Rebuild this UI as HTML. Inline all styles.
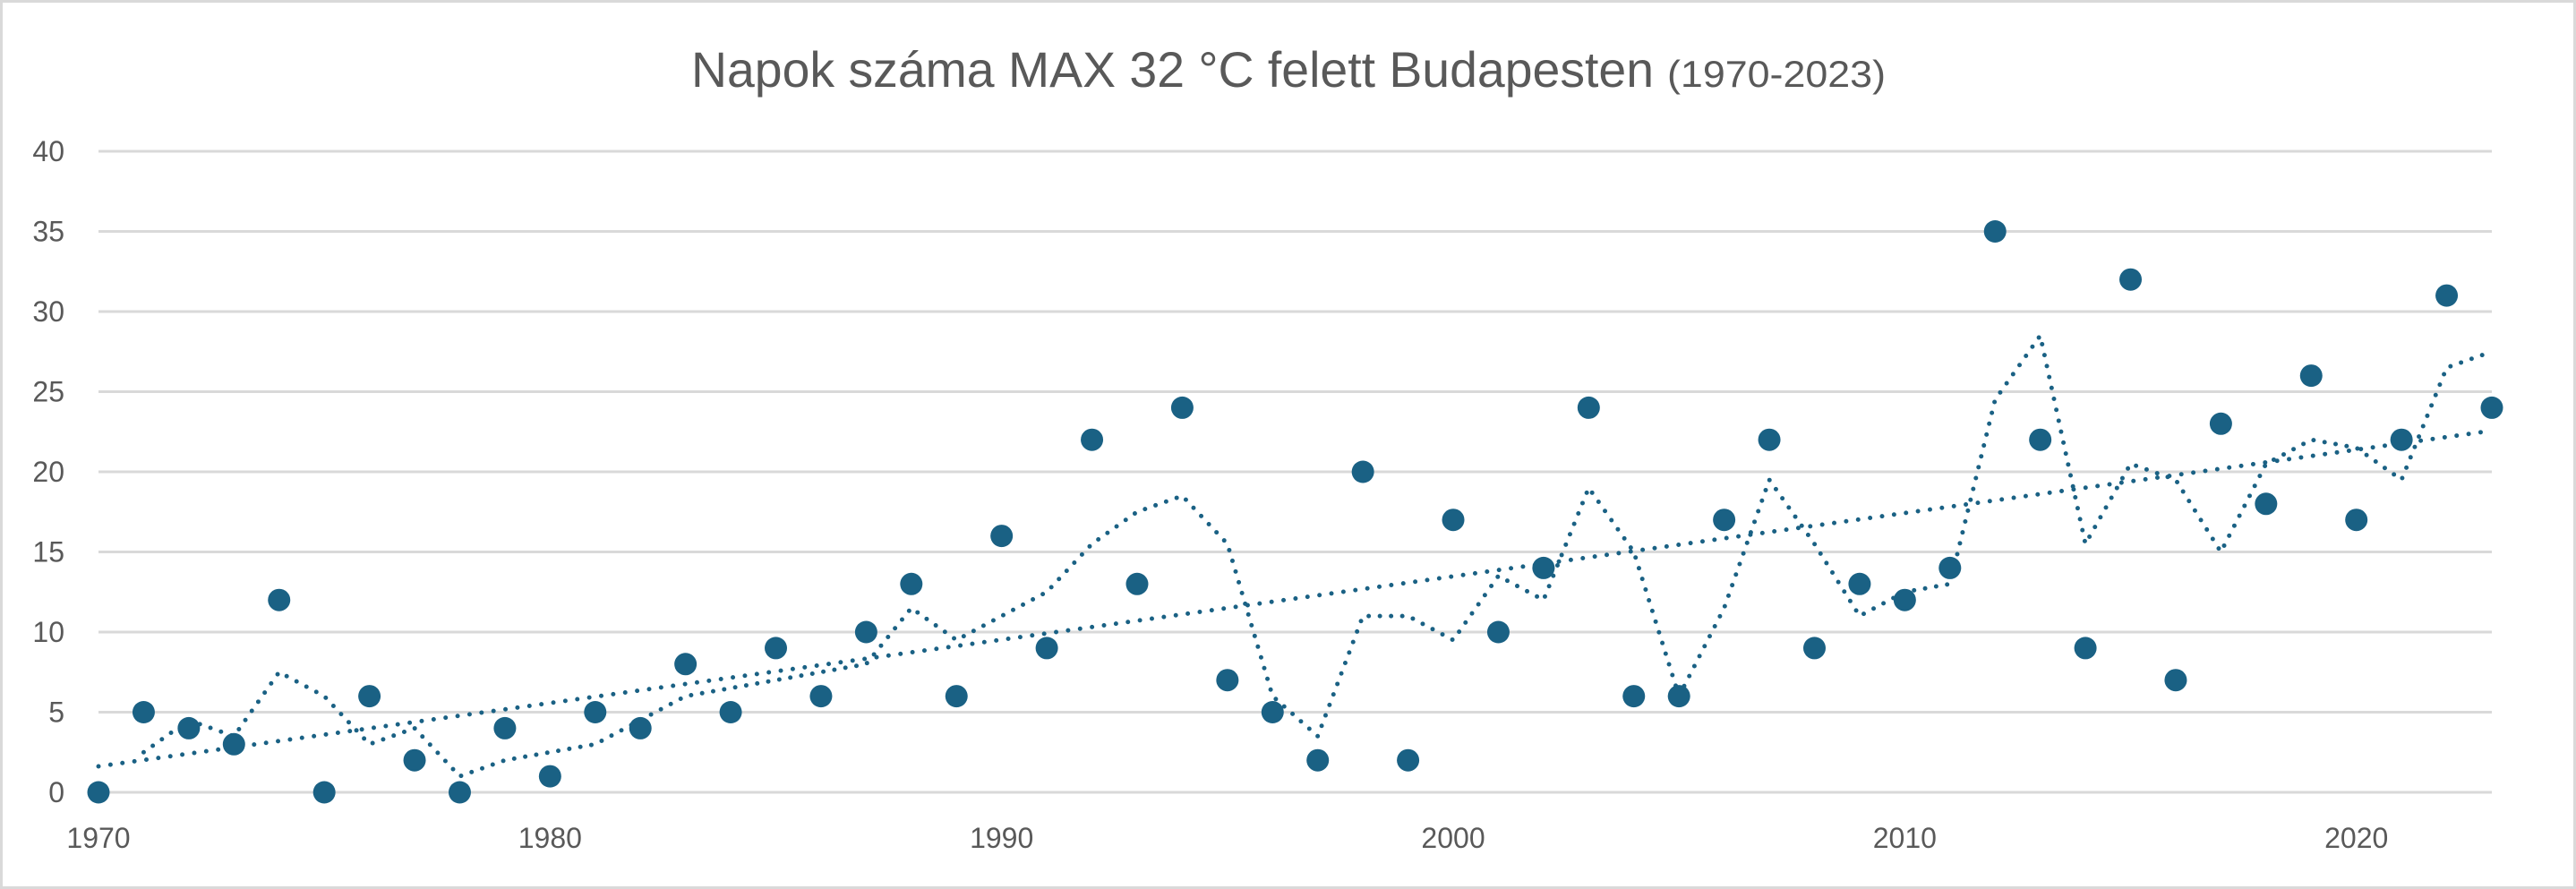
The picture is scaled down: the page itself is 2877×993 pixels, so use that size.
<!DOCTYPE html>
<html><head><meta charset="utf-8"><style>
html,body{margin:0;padding:0;background:#fff;}
svg{display:block;}
</style></head><body>
<svg id="c" width="2877" height="993" xmlns="http://www.w3.org/2000/svg" font-family="Liberation Sans, sans-serif">
<rect x="1.5" y="1.5" width="2874" height="990" fill="#fff" stroke="#d9d9d9" stroke-width="3"/>
<text x="772" y="97" font-size="56" fill="#595959" textLength="1075" lengthAdjust="spacingAndGlyphs">Napok száma MAX 32 °C felett Budapesten</text>
<text x="1862" y="97" font-size="42" fill="#595959" textLength="244" lengthAdjust="spacingAndGlyphs">(1970-2023)</text>
<g id="g"></g>
</svg>
<script>
const d=[0,5,4,3,12,0,6,2,0,4,1,5,4,8,5,9,6,10,13,6,16,9,22,13,24,7,5,2,20,2,17,10,14,24,6,6,17,22,9,13,12,14,35,22,9,32,7,23,18,26,17,22,31,24];
const x0=110,x1=2783,y0=885,yk=(885-169)/40;
const X=i=>x0+(x1-x0)*i/53, Y=v=>y0-v*yk;
let s='';
for(let v=0;v<=40;v+=5){s+=`<line x1="${x0}" x2="${x1}" y1="${Y(v)}" y2="${Y(v)}" stroke="#d9d9d9" stroke-width="3"/>`;
s+=`<text x="72" y="${Y(v)+11}" font-size="32" fill="#595959" text-anchor="end">${v}</text>`;}
for(let yr=1970;yr<=2020;yr+=10){s+=`<text x="${X(yr-1970)}" y="947" font-size="32" fill="#595959" text-anchor="middle">${yr}</text>`;}
// moving average
let p=[];for(let i=1;i<d.length;i++)p.push(X(i)+','+Y((d[i]+d[i-1])/2));
s+=`<polyline points="${p.join(' ')}" fill="none" stroke="#1a6184" stroke-width="5" stroke-linecap="round" stroke-dasharray="0 12.5"/>`;
// trend
let n=d.length,sx=0,sy=0,sxy=0,sxx=0;d.forEach((v,i)=>{sx+=i;sy+=v;sxy+=i*v;sxx+=i*i});
const b=(n*sxy-sx*sy)/(n*sxx-sx*sx),a=(sy-b*sx)/n;
s+=`<line x1="${X(0)}" y1="${Y(a)}" x2="${X(53)}" y2="${Y(a+b*53)}" stroke="#1a6184" stroke-width="5" stroke-linecap="round" stroke-dasharray="0 13.5"/>`;
d.forEach((v,i)=>{s+=`<circle cx="${X(i)}" cy="${Y(v)}" r="12.5" fill="#1a6184"/>`;});
document.getElementById('g').innerHTML=s;
</script>
</body></html>
